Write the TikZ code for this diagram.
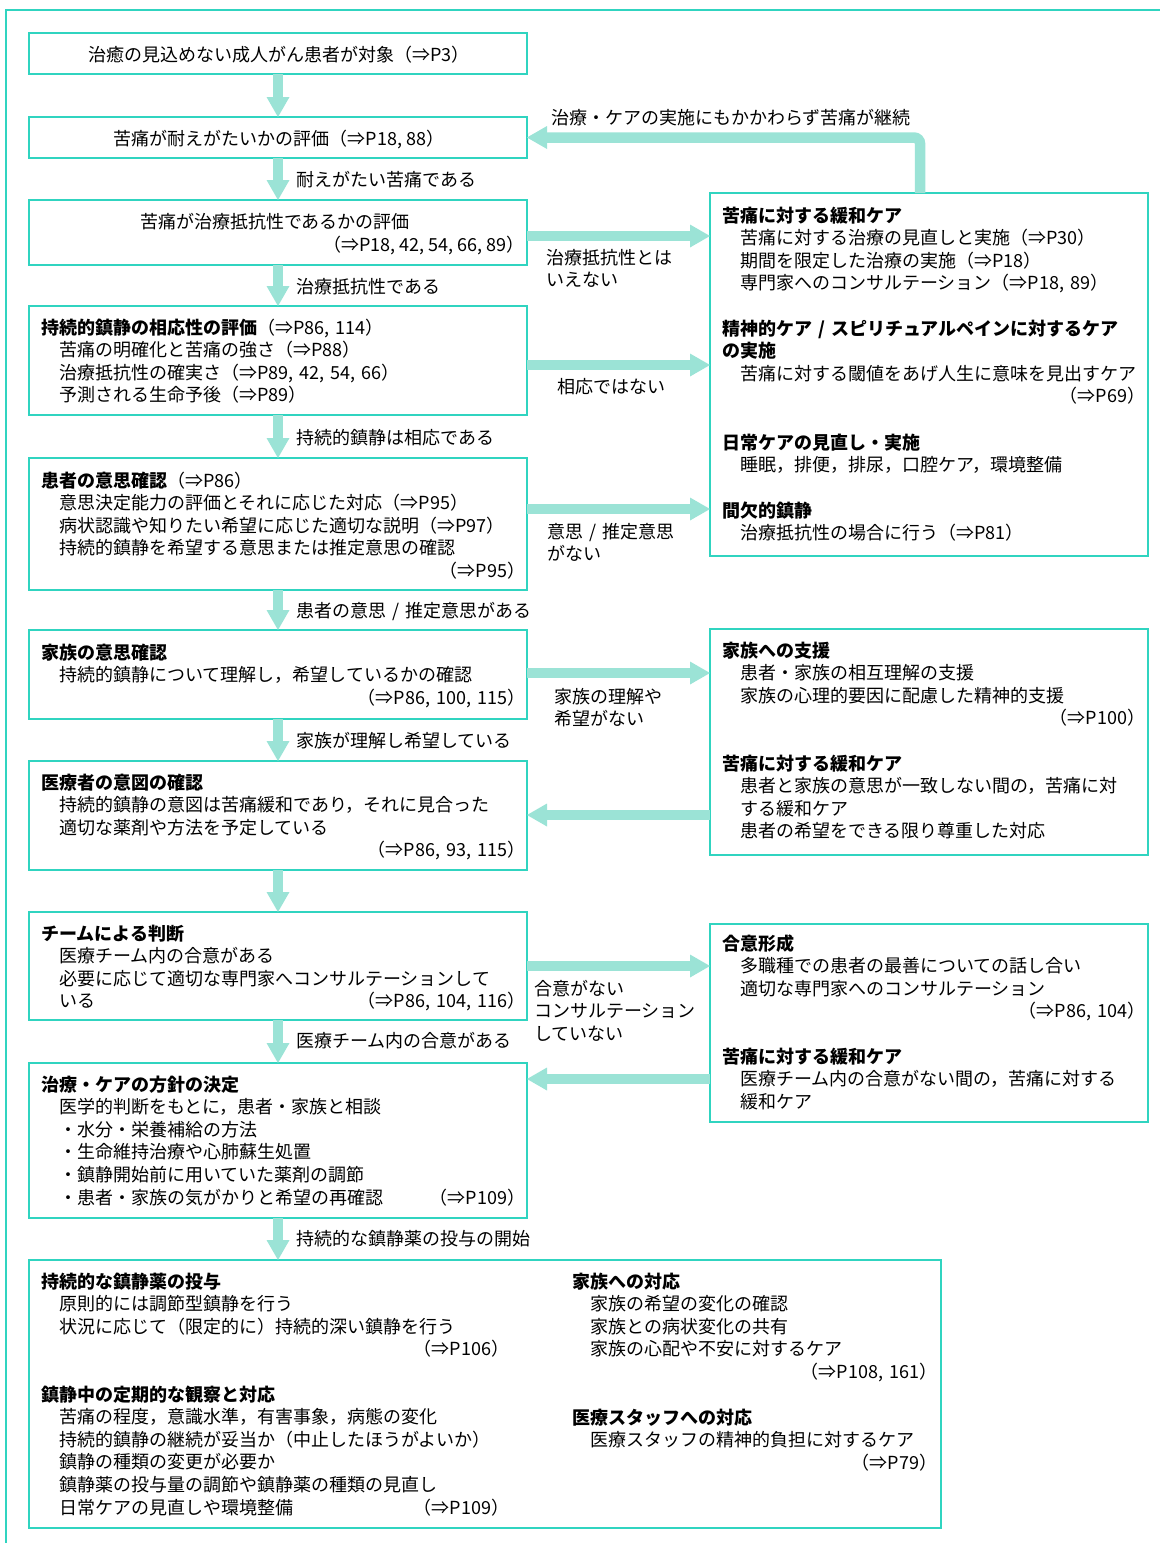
\documentclass[tikz,border=0pt]{standalone}
\usepackage{fontspec}
\setmainfont{Noto Sans CJK JP}
\usetikzlibrary{calc}
\definecolor{boxc}{RGB}{48,212,192}
\definecolor{arrc}{RGB}{155,227,214}
\newcommand\fz{\fontsize{18pt}{22.65pt}\selectfont}
\newcommand\ind{\hspace*{18pt}}
\newcommand\hdR[1]{\fill[arrc] (#1) -- ++(-20,-11.5) -- ++(0,23) -- cycle;}
\newcommand\hdL[1]{\fill[arrc] (#1) -- ++(20,-11.5) -- ++(0,23) -- cycle;}
\newcommand\hdD[1]{\fill[arrc] (#1) -- ++(-11.5,-20) -- ++(23,0) -- cycle;}
\begin{document}
\begin{tikzpicture}[x=1pt,y=-1pt,
  bx/.style={draw=boxc, line width=1.4pt, anchor=north west, inner sep=0pt, outer sep=0pt},
  tx/.style={anchor=base west, inner sep=0pt, align=left, text width=#1, font=\fz},
  ctx/.style={anchor=base, inner sep=0pt, font=\fz},
  lbl/.style={anchor=base west, inner sep=0pt, align=left, text width=200pt, font=\fz},
  shaft/.style={draw=arrc, line width=10.5pt, shorten >=19pt},
  framec/.style={draw=boxc, line width=1.4pt}]
\useasboundingbox (0,0) rectangle (1160,1543);
% outer frame (top and left)
\draw[framec] (6,1543) -- (6,10) -- (1160,10);

% ---------- left column boxes ----------
\node[bx, minimum width=498, minimum height=41] (A) at (29,33) {};
\node[bx, minimum width=498, minimum height=41] (B) at (29,117) {};
\node[bx, minimum width=498, minimum height=65] (C) at (29,200) {};
\node[bx, minimum width=498, minimum height=109] (D) at (29,306) {};
\node[bx, minimum width=498, minimum height=132] (E) at (29,458) {};
\node[bx, minimum width=498, minimum height=89] (F) at (29,630) {};
\node[bx, minimum width=498, minimum height=109] (G) at (29,761) {};
\node[bx, minimum width=498, minimum height=108] (H) at (29,912) {};
\node[bx, minimum width=498, minimum height=155] (I) at (29,1063) {};
\node[bx, minimum width=912, minimum height=268] (J) at (29,1260) {};

% ---------- right column boxes ----------
\node[bx, minimum width=438, minimum height=363] (R1) at (710,193) {};
\node[bx, minimum width=438, minimum height=226] (R2) at (710,629) {};
\node[bx, minimum width=438, minimum height=198] (R3) at (710,924) {};

% ---------- texts in left boxes ----------
\node[ctx] (At) at (279,61) {治癒の見込めない成人がん患者が対象（⇒P3）};
\node[ctx] (Bt) at (279,145) {苦痛が耐えがたいかの評価（⇒P18, 88）};
\node[ctx] (Ct) at (275,228) {苦痛が治療抵抗性であるかの評価};
\node[ctx, anchor=base east] (Cr) at (525,251) {（⇒P18, 42, 54, 66, 89）};

\node[tx=484] (Dt) at (41,334) {\textbf{持続的鎮静の相応性の評価}（⇒P86, 114）\\
\ind 苦痛の明確化と苦痛の強さ（⇒P88）\\
\ind 治療抵抗性の確実さ（⇒P89, 42, 54, 66）\\
\ind 予測される生命予後（⇒P89）};

\node[tx=484] (Et) at (41,487) {\textbf{患者の意思確認}（⇒P86）\\
\ind 意思決定能力の評価とそれに応じた対応（⇒P95）\\
\ind 病状認識や知りたい希望に応じた適切な説明（⇒P97）\\
\ind 持続的鎮静を希望する意思または推定意思の確認\\
\mbox{}\hfill（⇒P95）};

\node[tx=484] (Ft) at (41,659) {\textbf{家族の意思確認}\\
\ind 持続的鎮静について理解し，希望しているかの確認\\
\mbox{}\hfill（⇒P86, 100, 115）};

\node[tx=484] (Gt) at (41,789) {\textbf{医療者の意図の確認}\\
\ind 持続的鎮静の意図は苦痛緩和であり，それに見合った\\
\ind 適切な薬剤や方法を予定している\\
\mbox{}\hfill（⇒P86, 93, 115）};

\node[tx=484] (Ht) at (41,940) {\textbf{チームによる判断}\\
\ind 医療チーム内の合意がある\\
\ind 必要に応じて適切な専門家へコンサルテーションして\\
\ind いる\hfill（⇒P86, 104, 116）};

\node[tx=484] (It) at (41,1091) {\textbf{治療・ケアの方針の決定}\\
\ind 医学的判断をもとに，患者・家族と相談\\
\ind ・水分・栄養補給の方法\\
\ind ・生命維持治療や心肺蘇生処置\\
\ind ・鎮静開始前に用いていた薬剤の調節\\
\ind ・患者・家族の気がかりと希望の再確認\hfill（⇒P109）};

% ---------- bottom box texts ----------
\node[tx=468] (J1) at (41,1288) {\textbf{持続的な鎮静薬の投与}\\
\ind 原則的には調節型鎮静を行う\\
\ind 状況に応じて（限定的に）持続的深い鎮静を行う\\
\mbox{}\hfill（⇒P106）};
\node[tx=468] (J2) at (41,1401) {\textbf{鎮静中の定期的な観察と対応}\\
\ind 苦痛の程度，意識水準，有害事象，病態の変化\\
\ind 持続的鎮静の継続が妥当か（中止したほうがよいか）\\
\ind 鎮静の種類の変更が必要か\\
\ind 鎮静薬の投与量の調節や鎮静薬の種類の見直し\\
\ind 日常ケアの見直しや環境整備\hfill（⇒P109）};
\node[tx=365] (J3) at (572,1288) {\textbf{家族への対応}\\
\ind 家族の希望の変化の確認\\
\ind 家族との病状変化の共有\\
\ind 家族の心配や不安に対するケア\\
\mbox{}\hfill（⇒P108, 161）};
\node[tx=365] (J4) at (572,1424) {\textbf{医療スタッフへの対応}\\
\ind 医療スタッフの精神的負担に対するケア\\
\mbox{}\hfill（⇒P79）};

% ---------- right box texts ----------
\node[tx=423] (R1a) at (722,222) {\textbf{苦痛に対する緩和ケア}\\
\ind 苦痛に対する治療の見直しと実施（⇒P30）\\
\ind 期間を限定した治療の実施（⇒P18）\\
\ind 専門家へのコンサルテーション（⇒P18, 89）};
\node[tx=423] (R1b) at (722,335) {\textbf{精神的ケア / スピリチュアルペインに対するケア}\\
\textbf{の実施}\\
\ind 苦痛に対する閾値をあげ人生に意味を見出すケア\\
\mbox{}\hfill（⇒P69）};
\node[tx=423] (R1c) at (722,449) {\textbf{日常ケアの見直し・実施}\\
\ind 睡眠，排便，排尿，口腔ケア，環境整備};
\node[tx=423] (R1d) at (722,517) {\textbf{間欠的鎮静}\\
\ind 治療抵抗性の場合に行う（⇒P81）};

\node[tx=423] (R2a) at (722,657) {\textbf{家族への支援}\\
\ind 患者・家族の相互理解の支援\\
\ind 家族の心理的要因に配慮した精神的支援\\
\mbox{}\hfill（⇒P100）};
\node[tx=423] (R2b) at (722,770) {\textbf{苦痛に対する緩和ケア}\\
\ind 患者と家族の意思が一致しない間の，苦痛に対\\
\ind する緩和ケア\\
\ind 患者の希望をできる限り尊重した対応};

\node[tx=423] (R3a) at (722,950) {\textbf{合意形成}\\
\ind 多職種での患者の最善についての話し合い\\
\ind 適切な専門家へのコンサルテーション\\
\mbox{}\hfill（⇒P86, 104）};
\node[tx=423] (R3b) at (722,1063) {\textbf{苦痛に対する緩和ケア}\\
\ind 医療チーム内の合意がない間の，苦痛に対する\\
\ind 緩和ケア};

% ---------- vertical arrows ----------
\draw[shaft] (A.south) -- (B.north); \hdD{B.north}
\draw[shaft] (B.south) -- (C.north); \hdD{C.north}
\draw[shaft] (C.south) -- (D.north); \hdD{D.north}
\draw[shaft] (D.south) -- (E.north); \hdD{E.north}
\draw[shaft] (E.south) -- (F.north); \hdD{F.north}
\draw[shaft] (F.south) -- (G.north); \hdD{G.north}
\draw[shaft] (G.south) -- (H.north); \hdD{H.north}
\draw[shaft] (H.south) -- (I.north); \hdD{I.north}
\draw[shaft] (I.south) -- (I.south |- J.north); \hdD{I.south |- J.north}

% ---------- horizontal arrows ----------
\coordinate (c1) at (C.east |- 0,236);
\coordinate (c2) at (D.east |- 0,365);
\coordinate (c3) at (E.east |- 0,509);
\coordinate (c4) at (F.east |- 0,673);
\coordinate (c5) at (G.east |- 0,815);
\coordinate (c6) at (H.east |- 0,966);
\coordinate (c7) at (I.east |- 0,1079);
\draw[shaft] (c1) -- (c1 -| R1.west); \hdR{c1 -| R1.west}
\draw[shaft] (c2) -- (c2 -| R1.west); \hdR{c2 -| R1.west}
\draw[shaft] (c3) -- (c3 -| R1.west); \hdR{c3 -| R1.west}
\draw[shaft] (c4) -- (c4 -| R2.west); \hdR{c4 -| R2.west}
\draw[shaft] (c5 -| R2.west) -- (c5); \hdL{c5}
\draw[shaft] (c6) -- (c6 -| R3.west); \hdR{c6 -| R3.west}
\draw[shaft] (c7 -| R3.west) -- (c7); \hdL{c7}

% feedback arrow
\coordinate (f0) at (R1.north west -| 920,0);
\draw[shaft, rounded corners=6pt] (f0) |- (B.east); \hdL{B.east}

% ---------- arrow labels ----------
\node[lbl, text width=400pt] (L0) at (551,124) {治療・ケアの実施にもかかわらず苦痛が継続};
\node[lbl] (L1) at (296,186) {耐えがたい苦痛である};
\node[lbl] (L2) at (296,293) {治療抵抗性である};
\node[lbl] (L3) at (296,444) {持続的鎮静は相応である};
\node[lbl, text width=260pt] (L4) at (296,617) {患者の意思 / 推定意思がある};
\node[lbl] (L5) at (296,747) {家族が理解し希望している};
\node[lbl] (L6) at (296,1047) {医療チーム内の合意がある};
\node[lbl, text width=260pt] (L7) at (296,1245) {持続的な鎮静薬の投与の開始};
\node[lbl] (L8) at (546,264) {治療抵抗性とは\\いえない};
\node[lbl] (L9) at (557,393) {相応ではない};
\node[lbl] (L10) at (547,538) {意思 / 推定意思\\がない};
\node[lbl] (L11) at (554,703) {家族の理解や\\希望がない};
\node[lbl] (L12) at (534,995) {合意がない\\コンサルテーション\\していない};
\end{tikzpicture}
\end{document}
